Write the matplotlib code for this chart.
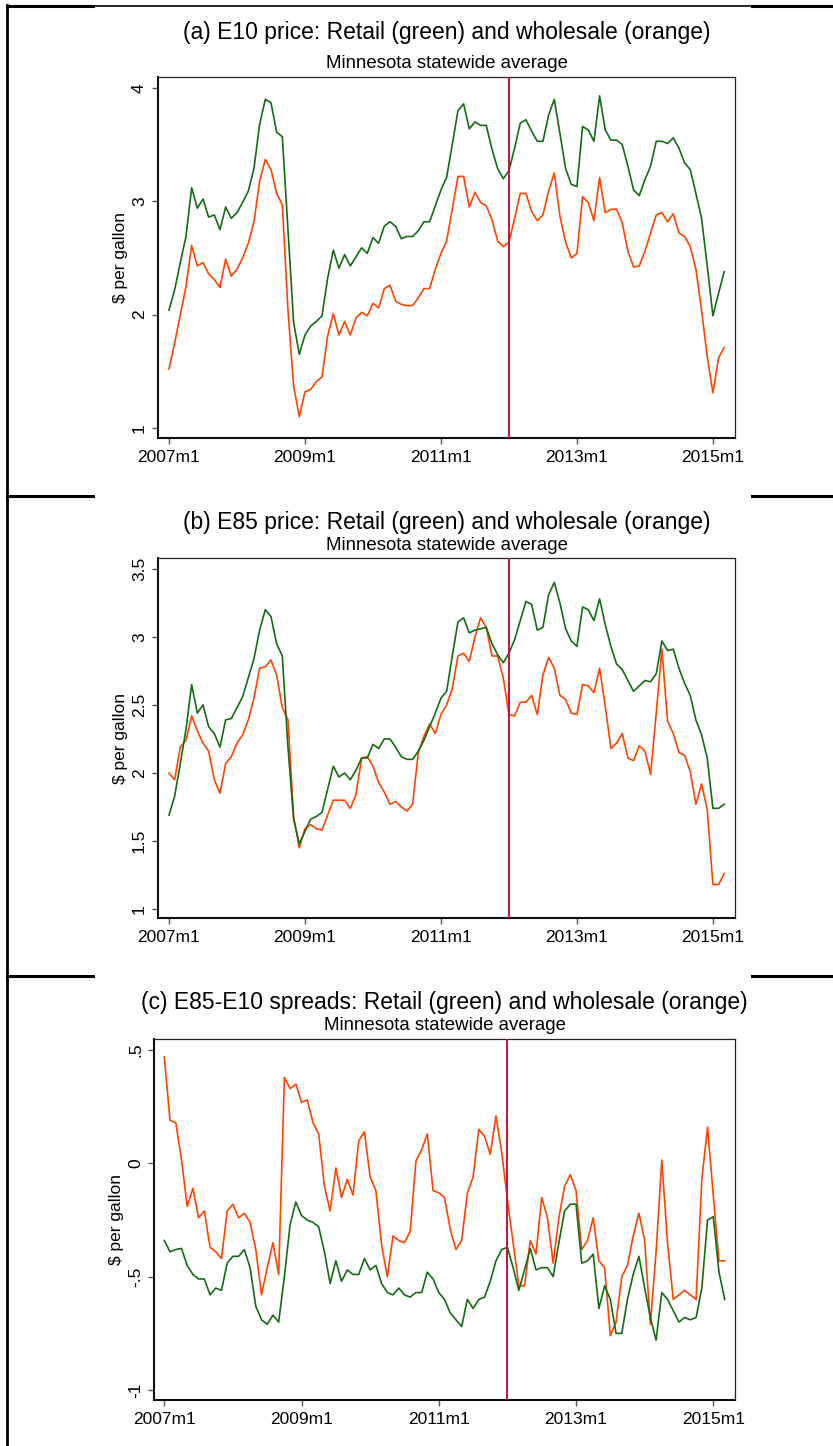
import numpy as np
import matplotlib
matplotlib.use('Agg')
import matplotlib.pyplot as plt
from matplotlib.lines import Line2D

plt.rcParams['font.family'] = ['Liberation Sans', 'DejaVu Sans']

# monthly series, 2007m1 .. 2015m3 (99 months)
months = np.arange(99)
xtick_pos = [0, 24, 48, 72, 96]
xtick_lab = ['2007m1', '2009m1', '2011m1', '2013m1', '2015m1']
break_month = 60  # 2012m1

e10_retail = [2.04, 2.22, 2.46, 2.69, 3.12, 2.94, 3.02, 2.86, 2.88, 2.75,
              2.95, 2.85, 2.90, 2.99, 3.09, 3.29, 3.68, 3.90, 3.87, 3.61,
              3.57, 2.75, 1.93, 1.65, 1.82, 1.90, 1.94, 1.99, 2.32, 2.57,
              2.41, 2.53, 2.43, 2.51, 2.59, 2.54, 2.68, 2.63, 2.78, 2.82,
              2.78, 2.67, 2.69, 2.69, 2.74, 2.82, 2.82, 2.96, 3.10, 3.21,
              3.50, 3.80, 3.86, 3.64, 3.70, 3.67, 3.67, 3.46, 3.29, 3.20,
              3.27, 3.47, 3.69, 3.72, 3.62, 3.53, 3.53, 3.76, 3.90, 3.60,
              3.29, 3.15, 3.13, 3.66, 3.63, 3.53, 3.93, 3.63, 3.54, 3.54,
              3.50, 3.31, 3.10, 3.05, 3.19, 3.31, 3.53, 3.53, 3.51, 3.56,
              3.47, 3.34, 3.28, 3.07, 2.85, 2.43, 1.99, 2.19, 2.38]
e10_wholesale = [1.52, 1.75, 2.00, 2.25, 2.61, 2.43, 2.46, 2.36, 2.31, 2.24,
                 2.49, 2.34, 2.40, 2.50, 2.63, 2.82, 3.18, 3.37, 3.28, 3.07,
                 2.97, 2.04, 1.37, 1.10, 1.32, 1.34, 1.41, 1.45, 1.81, 2.01,
                 1.82, 1.94, 1.82, 1.97, 2.02, 1.99, 2.10, 2.06, 2.23, 2.26,
                 2.12, 2.09, 2.08, 2.08, 2.15, 2.23, 2.23, 2.40, 2.54, 2.65,
                 2.93, 3.22, 3.22, 2.95, 3.08, 2.99, 2.96, 2.84, 2.65, 2.60,
                 2.64, 2.85, 3.07, 3.07, 2.91, 2.83, 2.88, 3.09, 3.25, 2.87,
                 2.64, 2.50, 2.54, 3.04, 2.99, 2.83, 3.21, 2.90, 2.93, 2.93,
                 2.81, 2.56, 2.42, 2.43, 2.56, 2.72, 2.88, 2.90, 2.82, 2.89,
                 2.72, 2.69, 2.60, 2.40, 2.04, 1.63, 1.31, 1.62, 1.71]

e85_retail = [1.69, 1.83, 2.07, 2.32, 2.65, 2.44, 2.50, 2.34, 2.29, 2.19,
              2.39, 2.40, 2.48, 2.56, 2.70, 2.84, 3.05, 3.20, 3.15, 2.95,
              2.86, 2.19, 1.66, 1.48, 1.57, 1.66, 1.68, 1.71, 1.88, 2.05,
              1.97, 2.00, 1.95, 2.02, 2.11, 2.11, 2.21, 2.18, 2.25, 2.25,
              2.19, 2.12, 2.10, 2.10, 2.16, 2.24, 2.34, 2.44, 2.55, 2.60,
              2.86, 3.11, 3.14, 3.03, 3.05, 3.06, 3.07, 2.95, 2.87, 2.81,
              2.88, 2.98, 3.12, 3.26, 3.24, 3.05, 3.07, 3.31, 3.40, 3.25,
              3.06, 2.97, 2.93, 3.22, 3.20, 3.12, 3.28, 3.09, 2.93, 2.80,
              2.76, 2.68, 2.60, 2.64, 2.68, 2.67, 2.73, 2.97, 2.90, 2.91,
              2.77, 2.66, 2.57, 2.39, 2.28, 2.11, 1.74, 1.74, 1.77]
e85_wholesale = [2.00, 1.95, 2.19, 2.24, 2.42, 2.31, 2.22, 2.16, 1.95, 1.85,
                 2.07, 2.12, 2.22, 2.28, 2.39, 2.55, 2.77, 2.78, 2.83, 2.72,
                 2.48, 2.39, 1.68, 1.45, 1.59, 1.62, 1.59, 1.58, 1.69, 1.80,
                 1.80, 1.80, 1.74, 1.84, 2.11, 2.12, 2.05, 1.93, 1.86, 1.77,
                 1.79, 1.75, 1.72, 1.77, 2.15, 2.27, 2.36, 2.29, 2.43, 2.50,
                 2.62, 2.86, 2.88, 2.82, 3.00, 3.14, 3.07, 2.86, 2.86, 2.70,
                 2.43, 2.42, 2.52, 2.52, 2.57, 2.43, 2.72, 2.85, 2.77, 2.57,
                 2.54, 2.44, 2.43, 2.65, 2.64, 2.59, 2.77, 2.49, 2.18, 2.22,
                 2.29, 2.11, 2.09, 2.20, 2.16, 1.99, 2.44, 2.91, 2.38, 2.29,
                 2.15, 2.13, 2.01, 1.77, 1.92, 1.73, 1.18, 1.18, 1.26]

spread_retail = [-0.34, -0.39, -0.38, -0.375, -0.45, -0.49, -0.51, -0.51, -0.58, -0.55,
                 -0.56, -0.44, -0.41, -0.41, -0.38, -0.46, -0.63, -0.69, -0.71, -0.67,
                 -0.70, -0.50, -0.27, -0.17, -0.23, -0.25, -0.26, -0.28, -0.39, -0.53,
                 -0.43, -0.52, -0.47, -0.49, -0.49, -0.42, -0.47, -0.45, -0.53, -0.57,
                 -0.58, -0.55, -0.58, -0.59, -0.57, -0.57, -0.48, -0.51, -0.57, -0.60,
                 -0.66, -0.69, -0.72, -0.60, -0.64, -0.60, -0.59, -0.52, -0.43, -0.38,
                 -0.37, -0.46, -0.56, -0.47, -0.375, -0.47, -0.46, -0.46, -0.50, -0.35,
                 -0.21, -0.18, -0.18, -0.44, -0.43, -0.40, -0.64, -0.54, -0.60, -0.75,
                 -0.75, -0.60, -0.49, -0.41, -0.55, -0.68, -0.78, -0.57, -0.60, -0.65,
                 -0.70, -0.68, -0.69, -0.68, -0.55, -0.25, -0.235, -0.48, -0.60]
spread_wholesale = [0.47, 0.19, 0.18, 0.02, -0.19, -0.11, -0.24, -0.21, -0.37, -0.39,
                    -0.42, -0.21, -0.18, -0.24, -0.22, -0.26, -0.38, -0.58, -0.46, -0.35,
                    -0.49, 0.38, 0.33, 0.35, 0.27, 0.28, 0.18, 0.13, -0.10, -0.21,
                    -0.02, -0.15, -0.07, -0.14, 0.10, 0.14, -0.06, -0.12, -0.36, -0.50,
                    -0.32, -0.34, -0.35, -0.30, 0.01, 0.06, 0.13, -0.12, -0.13, -0.15,
                    -0.29, -0.38, -0.34, -0.13, -0.06, 0.15, 0.12, 0.04, 0.21, 0.05,
                    -0.16, -0.35, -0.54, -0.54, -0.34, -0.40, -0.15, -0.24, -0.44, -0.24,
                    -0.10, -0.05, -0.12, -0.38, -0.34, -0.24, -0.43, -0.46, -0.76, -0.70,
                    -0.50, -0.45, -0.32, -0.22, -0.34, -0.71, -0.39, 0.015, -0.35, -0.60,
                    -0.58, -0.56, -0.58, -0.60, -0.07, 0.16, -0.14, -0.43, -0.43]

green = '#146b14'
orange = '#ff4500'
vred = '#cc0f3c'

W, H = 833, 1446
fig = plt.figure(figsize=(W / 100, H / 100), dpi=100)


def px_axes(l, t, r, b):
    return fig.add_axes([l / W, 1 - b / H, (r - l) / W, (b - t) / H])


panels = [
    dict(box=(158, 77, 735, 438), retail=e10_retail, whole=e10_wholesale,
         ylim=(0.912, 4.097), yt=[1, 2, 3, 4], ytl=['1', '2', '3', '4'],
         xlim=(-1.94, 99.9), toff=44,
         title='(a) E10 price: Retail (green) and wholesale (orange)'),
    dict(box=(158, 558, 735, 918), retail=e85_retail, whole=e85_wholesale,
         ylim=(0.934, 3.58), yt=[1, 1.5, 2, 2.5, 3, 3.5],
         ytl=['1', '1.5', '2', '2.5', '3', '3.5'], xlim=(-1.94, 99.9), toff=36,
         title='(b) E85 price: Retail (green) and wholesale (orange)'),
    dict(box=(154, 1039, 735, 1400), retail=spread_retail, whole=spread_wholesale,
         ylim=(-1.044, 0.549), yt=[-1, -0.5, 0, 0.5], ytl=['-1', '-.5', '0', '.5'],
         xlim=(-1.8, 99.8), toff=36,
         title='(c) E85-E10 spreads: Retail (green) and wholesale (orange)'),
]

for p in panels:
    ax = px_axes(*p['box'])
    hpx = p['box'][3] - p['box'][1]
    ax.plot(months, p['whole'], color=orange, lw=1.2, zorder=3)
    ax.plot(months, p['retail'], color=green, lw=1.2, zorder=4)
    ax.axvline(break_month, color=vred, lw=1.4, zorder=5)
    ax.set_xlim(*p['xlim'])
    ax.set_ylim(*p['ylim'])
    ax.set_xticks(xtick_pos)
    ax.set_xticklabels(xtick_lab)
    ax.set_yticks(p['yt'])
    ax.set_yticklabels(p['ytl'], rotation=90, va='center', ha='right')
    ax.tick_params(axis='both', direction='out', length=4, width=1,
                   color='#555555', labelsize=12.5)
    ax.tick_params(axis='x', pad=5)
    ax.tick_params(axis='y', pad=4)
    for side in ['top', 'right']:
        ax.spines[side].set_linewidth(0.9)
        ax.spines[side].set_color('#222222')
    for side in ['left', 'bottom']:
        ax.spines[side].set_linewidth(1.5)
        ax.spines[side].set_color('#111111')
    ax.set_ylabel(r'\$ per gallon', fontsize=12.5, labelpad=3)
    ax.text(0.5, 1 + p['toff'] / hpx, p['title'], transform=ax.transAxes,
            ha='center', va='center', fontsize=16.5)
    ax.text(0.5, 1 + 13 / hpx, 'Minnesota statewide average', transform=ax.transAxes,
            ha='center', va='center', fontsize=13.4)

# table-like frame lines
def fline(x0, x1, y0, y1, lw):
    fig.add_artist(Line2D([x0 / W, x1 / W], [1 - y0 / H, 1 - y1 / H],
                          color='black', lw=lw, transform=fig.transFigure))

fline(7, 7, 5, H, 2.0)
fline(7, W, 6, 6, 1.2)
fline(7, 93, 6, 6, 2.2)
fline(752, W, 6, 6, 2.2)
for ys in [496, 976]:
    fline(7, 93, ys, ys, 2.2)
    fline(752, W, ys, ys, 2.2)

fig.savefig('out.png', dpi=100)
